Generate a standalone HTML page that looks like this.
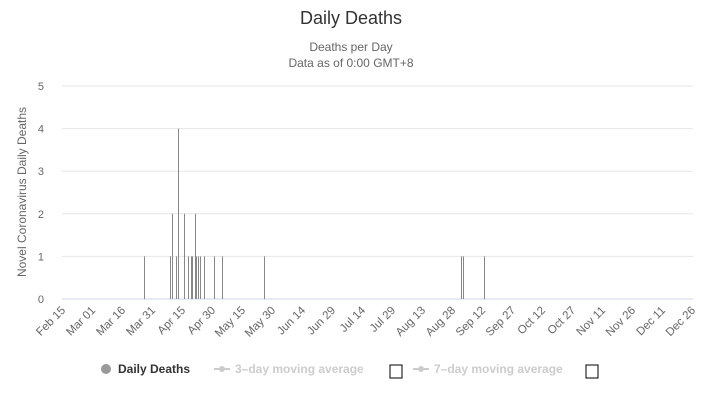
<!DOCTYPE html>
<html><head><meta charset="utf-8"><style>
body{margin:0;background:#fff;font-family:"Liberation Sans",sans-serif}
</style></head><body>
<svg width="703" height="400" xmlns="http://www.w3.org/2000/svg" font-family="Liberation Sans, sans-serif">
<text x="351" y="24" text-anchor="middle" font-size="18" fill="#333">Daily Deaths</text>
<text x="351" y="51" text-anchor="middle" font-size="12" fill="#666">Deaths per Day</text>
<text x="351" y="67" text-anchor="middle" font-size="12" fill="#666">Data as of 0:00 GMT+8</text>
<text transform="translate(26,192) rotate(-90)" text-anchor="middle" font-size="12" fill="#666">Novel Coronavirus Daily Deaths</text>
<g id="grid"></g><g id="bars"></g><g id="xl"></g>
<g font-size="12" font-weight="bold">
<g><circle cx="106" cy="369" r="5" fill="#999"/><text x="118" y="373" fill="#333">Daily Deaths</text></g>
<g><line x1="214" y1="369" x2="230" y2="369" stroke="#ccc" stroke-width="2"/><circle cx="222" cy="369" r="3" fill="#ccc"/><text x="235" y="373" fill="#ccc">3–day moving average</text><rect x="390" y="365" width="12" height="13" fill="none" stroke="#000"/></g>
<g><line x1="413" y1="369" x2="429" y2="369" stroke="#ccc" stroke-width="2"/><circle cx="421" cy="369" r="3" fill="#ccc"/><text x="434" y="373" fill="#ccc">7–day moving average</text><rect x="586" y="365" width="12" height="13" fill="none" stroke="#000"/></g>
</g>
</svg>
<script>
const days=[41,54,55,57,58,61,63,64.5,65,66.5,67,68,69,71,76,80,101,199.5,200.3,211];
const deaths=[1,1,2,1,4,2,1,1,1,2,1,1,1,1,1,1,1,1,1,1];
const xTicks=["Feb 15","Mar 01","Mar 16","Mar 31","Apr 15","Apr 30","May 15","May 30","Jun 14","Jun 29","Jul 14","Jul 29","Aug 13","Aug 28","Sep 12","Sep 27","Oct 12","Oct 27","Nov 11","Nov 26","Dec 11","Dec 26"];
const yTicks=[0,1,2,3,4,5];
const NS="http://www.w3.org/2000/svg";
const x=d=>62+d*2.0, y=v=>299-v*42.6;
function mk(t,a,p){const e=document.createElementNS(NS,t);for(const k in a)e.setAttribute(k,a[k]);p.appendChild(e);return e;}
const g=document.getElementById('grid');
yTicks.forEach(v=>{
 const l=mk('line',{x1:62,x2:693,y1:y(v),y2:y(v),stroke:v?'#e6e6e6':'#ccd6eb'},g);
 
 
 const t=mk('text',{x:44,y:y(v)+4,'text-anchor':'end','font-size':11,fill:'#666'},g);t.textContent=v;
 
 
});
const b=document.getElementById('bars');
days.forEach((d,i)=>{
 const px=Math.round(x(d))+0.5;
 const l=mk('line',{x1:px,x2:px,y1:y(0),y2:y(deaths[i]),stroke:'#888','stroke-width':1},b);
 
 
});
const xl=document.getElementById('xl');
xTicks.forEach((s,i)=>{
 const px=x(i*15);
 const t=mk('text',{transform:`translate(${px+4},${311}) rotate(-45)`,'text-anchor':'end','font-size':11.5,fill:'#666'},xl);t.textContent=s;
 
 
});
</script>
</body></html>
